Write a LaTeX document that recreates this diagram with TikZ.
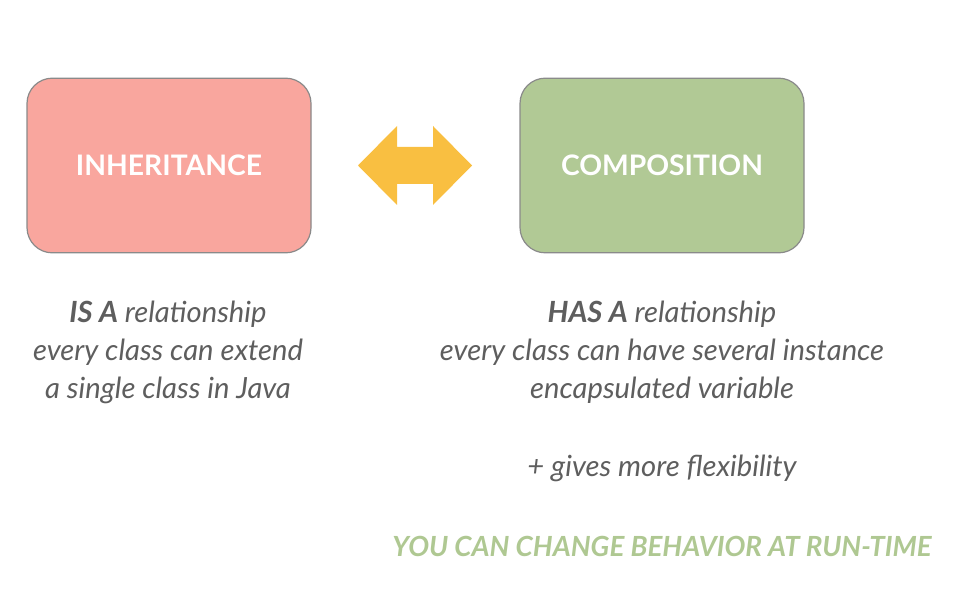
\documentclass[tikz,border=0pt]{standalone}
\usepackage{fontspec}
\setmainfont{Lato}
\definecolor{inhred}{HTML}{F9A69E}
\definecolor{compgreen}{HTML}{B1C995}
\definecolor{boxline}{HTML}{8A8A8A}
\definecolor{arrowyel}{HTML}{F9BF41}
\definecolor{txtgray}{HTML}{5E5E5E}
\definecolor{notegreen}{HTML}{AFC892}
\tikzset{
  classbox/.style={draw=boxline, line width=0.9pt, rounded corners=19pt,
    minimum width=213pt, minimum height=131pt, text=white,
    font=\fontsize{21.2}{26}\selectfont\bfseries},
  note/.style={align=center, text=txtgray, font=\fontsize{21.9}{28.5}\selectfont\itshape}
}
\begin{document}
\begin{tikzpicture}[x=0.75pt, y=-0.75pt, line join=round, line cap=round]
\useasboundingbox (0,0) rectangle (966,591);
\node[classbox, fill=inhred] (inh) at (169,165.5) {INHERITANCE};
\node[classbox, fill=compgreen] (comp) at (662,165.5) {COMPOSITION};
% double arrow between the boxes
\fill[arrowyel] (358,165.5) -- (397,126) -- (397,147) -- (433,147) -- (433,126)
  -- (472,165.5) -- (433,205) -- (433,184) -- (397,184) -- (397,205) -- cycle;
\node[note] (isa) at (168,352) {\textbf{IS A} relationship\\every class can extend\\a single class in Java};
\node[note] (hasa) at (662,352) {\textbf{HAS A} relationship\\every class can have several instance\\encapsulated variable};
\node[note] (flex) at (662,468) {+ gives more flexibility};
\node[text=notegreen, font=\fontsize{20.8}{24}\selectfont\bfseries\itshape] (runtime) at (662,546) {YOU CAN CHANGE BEHAVIOR AT RUN-TIME};
\end{tikzpicture}
\end{document}
